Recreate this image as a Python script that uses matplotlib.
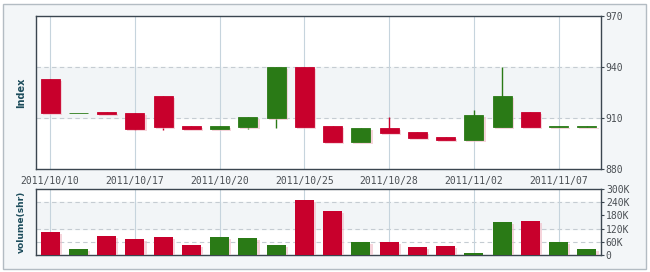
import matplotlib.pyplot as plt
import matplotlib.patheffects as pe
from matplotlib.patches import FancyBboxPatch

# datos de las velas (indice) y volumen
opens  = [933, 913, 913.4, 913, 923, 905.3, 903.7, 904.7, 910.2, 940,
          905.3, 896, 904.1, 901.8, 899, 897.2, 904.7, 913.5, 905.0, 905.0]
closes = [913, 913.2, 912.2, 903.5, 904.7, 903.7, 905.3, 910.6, 940, 904.7,
          896, 904, 901.4, 898.4, 897.2, 911.8, 923, 904.7, 905.2, 905.2]
highs  = [933, 913.2, 913.4, 913, 923, 905.3, 905.3, 910.6, 940, 940,
          905.3, 904, 910.8, 901.8, 899, 914.7, 940, 913.5, 905.2, 905.2]
lows   = [913, 913, 912.2, 903, 903, 903.7, 903.7, 903.8, 904.3, 904.7,
          896, 896, 901.4, 898.4, 897.2, 897.2, 904.7, 904.7, 905.0, 905.0]
volumes = [106, 27, 86, 73, 82, 45, 82, 77, 45, 250,
           201, 61, 61, 36, 41, 9, 150, 155, 61, 27]  # miles

date_pos = [0, 3, 6, 9, 12, 15, 18]
date_labels = ['2011/10/10', '2011/10/17', '2011/10/20', '2011/10/25',
               '2011/10/28', '2011/11/02', '2011/11/07']
index_ticks = [880, 910, 940, 970]
vol_ticks = [0, 60, 120, 180, 240, 300]
vol_labels = ['0', '60K', '120K', '180K', '240K', '300K']

RED = '#c8002c'
GREEN = '#2a7a16'
FRAME = '#3b4650'
TXT = '#4a4f54'
LBL = '#1d4d5c'

W, H = 650, 272
fig = plt.figure(figsize=(W / 100, H / 100), dpi=100)
fig.patch.set_facecolor('white')
fig.patches.append(FancyBboxPatch((3 / W, 3 / H), 643 / W, 265 / H,
                                  boxstyle='square,pad=0', transform=fig.transFigure,
                                  facecolor='#f3f6f8', edgecolor='#b3bcc3', lw=1, zorder=-5))

ax = fig.add_axes([36 / W, 1 - 169 / H, 565 / W, 153 / H])
axv = fig.add_axes([36 / W, 1 - 255 / H, 565 / W, 66 / H])

n = len(opens)
x = list(range(n))
colors = [GREEN if c >= o else RED for o, c in zip(opens, closes)]
shadow = [pe.SimplePatchShadow(offset=(1.5, -1.5), shadow_rgbFace='#f0b8c4', alpha=0.6),
          pe.Normal()]

# grafico principal
ax.set_facecolor('white')
ax.axhspan(910, 940, color='#f2f5f7', zorder=0)
for y in (910, 940):
    ax.axhline(y, color='#c5ccd2', lw=0.8, ls=(0, (4, 3)), zorder=1)
for p in date_pos:
    ax.axvline(p, color='#c6d4dd', lw=0.8, zorder=1)
ax.vlines(x, lows, highs, colors=colors, lw=1, zorder=2)
bottoms = [min(o, c) for o, c in zip(opens, closes)]
heights = [abs(c - o) for o, c in zip(opens, closes)]
bars = ax.bar(x, heights, bottom=bottoms, width=0.68, color=colors,
              edgecolor=colors, lw=0.6, zorder=3)
for b in bars:
    b.set_path_effects(shadow)
ax.set_xlim(-0.5, n - 0.5)
ax.set_ylim(880, 970)
ax.set_yticks(index_ticks)
ax.set_xticks(date_pos)
ax.set_xticklabels(date_labels)
ax.yaxis.tick_right()
ax.tick_params(axis='y', length=2.5, pad=1, color=FRAME, labelsize=7,
               labelcolor=TXT, labelfontfamily='DejaVu Sans Mono')
ax.tick_params(axis='x', length=0, pad=5, labelsize=7, labelcolor=TXT,
               labelfontfamily='DejaVu Sans Mono')
ax.set_ylabel('Index', fontsize=7, fontweight='bold', color=LBL, labelpad=7)
ax.yaxis.set_label_position('left')
for s in ax.spines.values():
    s.set_color(FRAME)
    s.set_linewidth(1)

# volumen
axv.set_facecolor('white')
axv.axhspan(120, 240, color='#f2f5f7', zorder=0)
for y in (60, 120, 240):
    axv.axhline(y, color='#c5ccd2', lw=0.8, ls=(0, (4, 3)), zorder=1)
for p in date_pos:
    axv.axvline(p, color='#c6d4dd', lw=0.8, zorder=1)
vbars = axv.bar(x, volumes, width=0.68, color=colors, zorder=3)
for b in vbars:
    b.set_path_effects(shadow)
axv.set_xlim(-0.5, n - 0.5)
axv.set_ylim(0, 300)
axv.set_xticks([])
axv.set_yticks(vol_ticks)
axv.set_yticklabels(vol_labels)
axv.yaxis.tick_right()
axv.tick_params(axis='y', length=2.5, pad=1, color=FRAME, labelsize=7,
                labelcolor=TXT, labelfontfamily='DejaVu Sans Mono')
axv.set_ylabel('volume(shr)', fontsize=6.6, fontweight='bold', color=LBL, labelpad=7)
axv.yaxis.set_label_position('left')
for s in axv.spines.values():
    s.set_color(FRAME)
    s.set_linewidth(1)

fig.savefig('out.png', dpi=100)
